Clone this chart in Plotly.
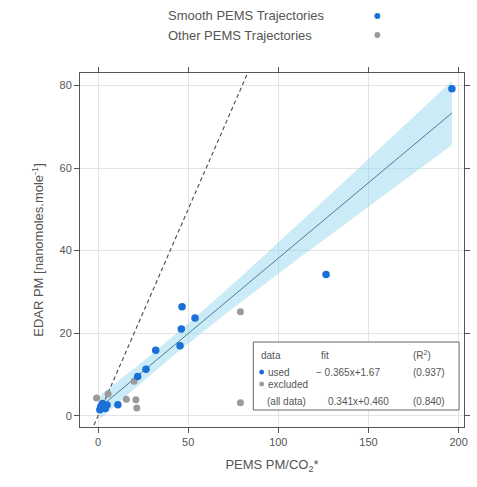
import numpy as np
import plotly.graph_objects as go

# ---- data ----
used_x = [1.0, 1.5, 2.0, 2.5, 3.0, 4.0, 5.0, 11.0, 22.0, 26.6, 32.0, 45.5, 46.2, 46.6, 53.8, 126.5, 196.3]
used_y = [1.5, 2.2, 2.5, 3.0, 2.0, 1.8, 2.6, 2.7, 9.5, 11.3, 15.9, 17.0, 21.0, 26.4, 23.7, 34.2, 79.2]
excl_x = [-0.8, 5.6, 15.7, 20.0, 21.0, 21.5, 79.0, 79.0]
excl_y = [4.3, 5.3, 4.0, 8.4, 3.9, 1.9, 25.2, 3.2]

fit_slope = 0.365
fit_intercept = 1.67

x_ticks = [0, 50, 100, 150, 200]
y_ticks = [0, 20, 40, 60, 80]
x_range = [-10, 203]
y_range = [-2.7, 83]

legend_rows = ["Smooth PEMS Trajectories", "Other PEMS Trajectories"]
box_header = ["data", "fit", "(R<sup>2</sup>)"]
box_used = ["used", "\u2212 0.365x+1.67", "(0.937)"]
box_excl = ["excluded"]
box_all = ["(all data)", "0.341x+0.460", "(0.840)"]

BLUE = "#1a70d6"
GREY = "#9a9a9a"
TXT = "#555555"

# ---- fit line and confidence band ----
ux = np.array(used_x)
uy = np.array(used_y)
n = len(ux)
pred_used = fit_slope * ux + fit_intercept
s = np.sqrt(np.sum((uy - pred_used) ** 2) / (n - 2))
xbar = ux.mean()
sxx = np.sum((ux - xbar) ** 2)
xs = np.linspace(ux.min(), ux.max(), 120)
yfit = fit_slope * xs + fit_intercept
half = 2.11 * s * np.sqrt(1.0 / n + (xs - xbar) ** 2 / sxx)

fig = go.Figure()
fig.add_trace(go.Scatter(x=np.concatenate([xs, xs[::-1]]),
                         y=np.concatenate([yfit + half, (yfit - half)[::-1]]),
                         fill="toself", fillcolor="rgba(140,210,238,0.45)",
                         line=dict(width=0), hoverinfo="skip", showlegend=False))
fig.add_trace(go.Scatter(x=xs, y=yfit, mode="lines",
                         line=dict(color="#467f99", width=1), showlegend=False))
# 1:1 line
fig.add_trace(go.Scatter(x=[x_range[0], y_range[1]], y=[x_range[0], y_range[1]], mode="lines",
                         line=dict(color="#555555", width=1.2, dash="4px,3px"), showlegend=False))
fig.add_trace(go.Scatter(x=excl_x, y=excl_y, mode="markers",
                         marker=dict(color=GREY, size=7), showlegend=False))
fig.add_trace(go.Scatter(x=used_x, y=used_y, mode="markers",
                         marker=dict(color=BLUE, size=7.5), showlegend=False))

L, R, T, B = 80, 7, 73, 60
W, H = 477, 487
pw, ph = W - L - R, H - T - B


def px(xp):
    return (xp - L) / pw


def py(yp):
    return (H - B - yp) / ph


ann = []
shapes = []
# top legend
for i, (lab, col) in enumerate(zip(legend_rows, [BLUE, GREY])):
    yy = 16 + 19 * i
    ann.append(dict(x=px(167), y=py(yy), xref="paper", yref="paper", text=lab,
                    showarrow=False, xanchor="left", yanchor="middle",
                    font=dict(size=13, color=TXT)))
    shapes.append(dict(type="circle", xref="paper", yref="paper",
                       x0=px(379), x1=px(385), y0=py(yy + 3), y1=py(yy - 3),
                       fillcolor=col, line=dict(width=0)))

# inner legend box
shapes.append(dict(type="rect", xref="paper", yref="paper",
                   x0=px(256), x1=px(465), y0=py(410), y1=py(342),
                   fillcolor="white", line=dict(color="#666666", width=1), layer="above"))


def t(xp, yp, s_, size=10):
    ann.append(dict(x=px(xp), y=py(yp), xref="paper", yref="paper", text=s_,
                    showarrow=False, xanchor="left", yanchor="middle",
                    font=dict(size=size, color=TXT)))


t(262, 355, box_header[0]); t(323, 355, box_header[1]); t(416, 355, box_header[2])
t(269, 372, box_used[0]); t(318, 372, box_used[1]); t(416, 372, box_used[2])
t(269, 384, box_excl[0])
t(268, 401, box_all[0]); t(330, 401, box_all[1]); t(416, 401, box_all[2])
for yy, col in [(372, BLUE), (384, GREY)]:
    shapes.append(dict(type="circle", xref="paper", yref="paper",
                       x0=px(262), x1=px(267), y0=py(yy + 2.5), y1=py(yy - 2.5),
                       fillcolor=col, line=dict(width=0), layer="above"))

axis_common = dict(showline=True, linecolor="#555555", linewidth=1, mirror="ticks",
                   ticks="outside", ticklen=5, tickcolor="#555555",
                   showgrid=True, gridcolor="#e3e3e3", gridwidth=1, zeroline=False,
                   tickfont=dict(size=11, color=TXT))

fig.update_layout(
    width=W, height=H, margin=dict(l=L, r=R, t=T, b=B),
    paper_bgcolor="white", plot_bgcolor="white",
    font=dict(family="Liberation Sans, Arial, sans-serif", color=TXT),
    xaxis=dict(range=x_range, tickvals=x_ticks,
               title=dict(text="PEMS PM/CO<sub>2</sub>*", font=dict(size=13, color=TXT), standoff=12),
               **axis_common),
    yaxis=dict(range=y_range, tickvals=y_ticks,
               title=dict(text="EDAR PM [nanomoles.mole<sup>-1</sup>]", font=dict(size=13, color=TXT),
                          standoff=12),
               **axis_common),
    annotations=ann, shapes=shapes, showlegend=False,
)

fig.write_html("out.html")
